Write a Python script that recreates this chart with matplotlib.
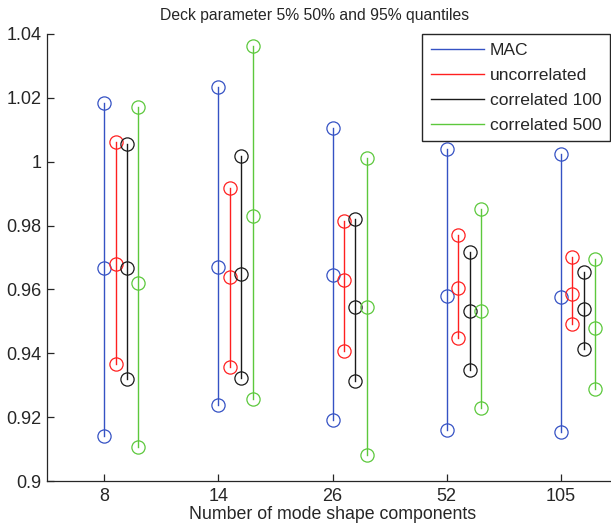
import matplotlib
matplotlib.use("Agg")
import matplotlib.pyplot as plt
from matplotlib.lines import Line2D
import numpy as np

plt.rcParams['font.family'] = ['Liberation Sans', 'DejaVu Sans']

# Number of mode shape components (categorical x positions)
components = ["8", "14", "26", "52", "105"]

series_names = ["MAC", "uncorrelated", "correlated 100", "correlated 500"]

# 5%, 50%, 95% quantiles of the deck parameter per series and component count
mac_q05 = [0.9142, 0.9238, 0.9192, 0.9161, 0.9155]
mac_q50 = [0.9666, 0.9671, 0.9645, 0.9578, 0.9576]
mac_q95 = [1.0185, 1.0234, 1.0105, 1.0040, 1.0023]

unc_q05 = [0.9365, 0.9358, 0.9406, 0.9447, 0.9491]
unc_q50 = [0.9679, 0.9640, 0.9630, 0.9605, 0.9586]
unc_q95 = [1.0062, 0.9917, 0.9815, 0.9769, 0.9702]

c100_q05 = [0.9320, 0.9322, 0.9313, 0.9349, 0.9414]
c100_q50 = [0.9666, 0.9648, 0.9544, 0.9532, 0.9540]
c100_q95 = [1.0055, 1.0017, 0.9820, 0.9716, 0.9656]

c500_q05 = [0.9107, 0.9258, 0.9081, 0.9230, 0.9288]
c500_q50 = [0.9619, 0.9830, 0.9544, 0.9533, 0.9479]
c500_q95 = [1.0170, 1.0362, 1.0013, 0.9851, 0.9696]

quantiles = [
    (mac_q05, mac_q50, mac_q95),
    (unc_q05, unc_q50, unc_q95),
    (c100_q05, c100_q50, c100_q95),
    (c500_q05, c500_q50, c500_q95),
]
colors = ["#3552c4", "#ff2020", "#1a1a1a", "#5cc83c"]
offsets = [0.0, 0.1, 0.2, 0.3]

fig = plt.figure(figsize=(6.11, 5.31), dpi=100)
ax = fig.add_axes([47 / 611, 1 - 481 / 531, 571 / 611, 447 / 531])

base = np.arange(1, len(components) + 1)
for (q05, q50, q95), col, off in zip(quantiles, colors, offsets):
    x = base + off
    for xi, lo, mid, hi in zip(x, q05, q50, q95):
        ax.plot([xi, xi], [lo, hi], color=col, lw=1.0, zorder=2)
        ax.plot([xi, xi, xi], [lo, mid, hi], linestyle='none', marker='o',
                markersize=9.5, markerfacecolor='none', markeredgecolor=col,
                markeredgewidth=0.9, zorder=3)

ax.set_xlim(0.5, 5.5)
ax.set_ylim(0.9, 1.04)
ax.set_xticks(base)
ax.set_xticklabels(components)
yt = np.round(np.arange(0.9, 1.0401, 0.02), 2)
ax.set_yticks(yt)
ax.set_yticklabels([f"{v:g}" for v in yt])

for s in ["top", "right"]:
    ax.spines[s].set_visible(False)
for s in ["left", "bottom"]:
    ax.spines[s].set_color("#262626")
    ax.spines[s].set_linewidth(0.9)
ax.tick_params(direction='in', length=5, width=0.9, colors="#262626",
               labelsize=13, pad=5)
ax.tick_params(axis='y', pad=4)

fig.text(315 / 611, 1 - 20 / 531, "Deck parameter 5% 50% and 95% quantiles",
         fontsize=11.3, color="#262626", ha='center', va='baseline')
ax.set_xlabel("Number of mode shape components", fontsize=12.8,
              color="#262626", labelpad=1)

handles = [Line2D([0], [0], color=c, lw=1.0) for c in colors]
leg = fig.legend(handles, series_names, loc='upper right',
                 bbox_to_anchor=(610 / 611, 1 - 34 / 531),
                 fontsize=12.6, frameon=True, fancybox=False,
                 edgecolor='#262626', framealpha=1, handlelength=3.0,
                 handletextpad=0.35, labelspacing=0.55, borderpad=0.5,
                 borderaxespad=0.0)
leg.get_frame().set_linewidth(1.0)
for t in leg.get_texts():
    t.set_color("#262626")

fig.savefig("out.png", dpi=100)
